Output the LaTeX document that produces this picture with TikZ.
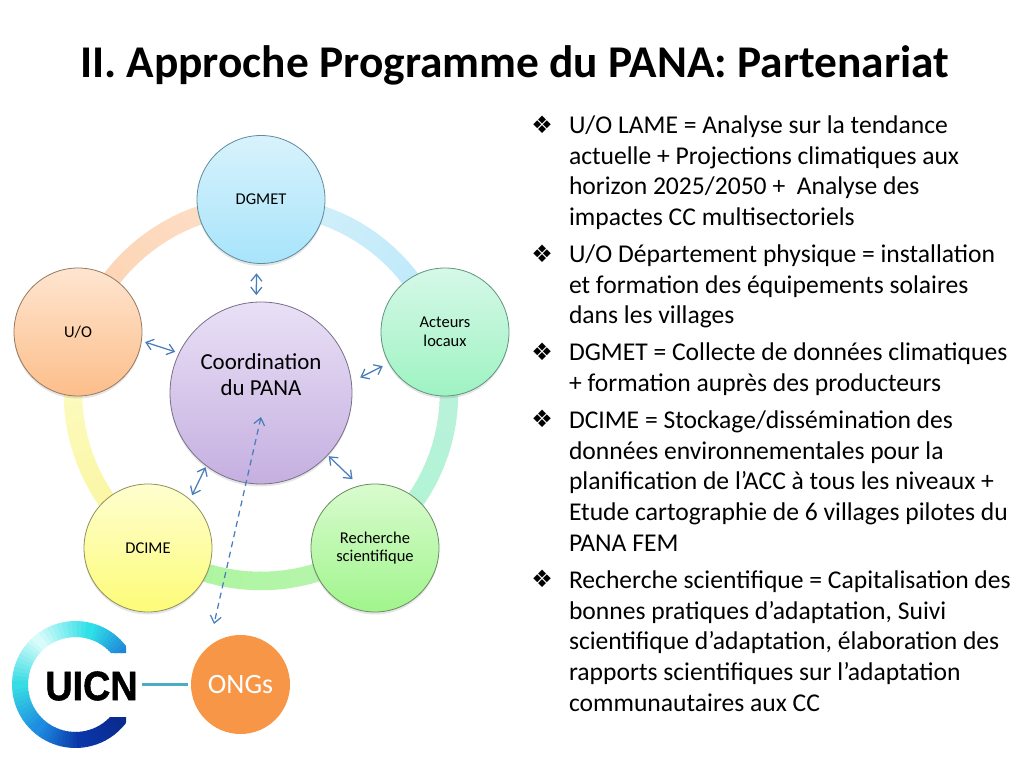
\documentclass[tikz,border=0pt]{standalone}
\usepackage{fontspec}
\setmainfont{Carlito}
\newfontfamily\dejavu{DejaVu Sans}
\newfontfamily\heavy[BoldFeatures={FakeBold=1.3}]{Liberation Sans}
\usetikzlibrary{arrows.meta,shadows}
\definecolor{linkblue}{HTML}{4A7EBB}
\definecolor{ra}{HTML}{D5F0FA}\definecolor{rb}{HTML}{BBE8FA}
\definecolor{rc}{HTML}{BDF2DC}\definecolor{rd}{HTML}{AEF3D4}
\definecolor{re}{HTML}{B9F5B0}\definecolor{rf}{HTML}{AAF59C}
\definecolor{rg}{HTML}{FAF59A}\definecolor{rh}{HTML}{FDFCC8}
\definecolor{ri}{HTML}{FCD2AE}\definecolor{rj}{HTML}{FDE0CC}
\definecolor{la}{HTML}{1F7FD8}\definecolor{lb}{HTML}{30E0E8}
\definecolor{lc}{HTML}{D8FCFA}\definecolor{ld}{HTML}{38DCE4}
\definecolor{le}{HTML}{1E8CE0}\definecolor{lf}{HTML}{0A36A8}
\definecolor{lg}{HTML}{0A2A8C}
\definecolor{dgt}{HTML}{D8F2FC}\definecolor{dgb}{HTML}{A8E4FB}\definecolor{dge}{HTML}{5F8C9C}
\definecolor{act}{HTML}{D6F8E8}\definecolor{acb}{HTML}{9EF3C2}\definecolor{ace}{HTML}{5F9480}
\definecolor{ret}{HTML}{D9FBCF}\definecolor{reb}{HTML}{A0F58C}\definecolor{ree}{HTML}{6A8C60}
\definecolor{dct}{HTML}{FEFED0}\definecolor{dcb}{HTML}{FDFC78}\definecolor{dce}{HTML}{90905A}
\definecolor{uot}{HTML}{FEE5D0}\definecolor{uob}{HTML}{FDBE8A}\definecolor{uoe}{HTML}{957A60}
\definecolor{cot}{HTML}{E9E0F6}\definecolor{cob}{HTML}{C5AFE0}\definecolor{coe}{HTML}{787088}
\definecolor{ongc}{HTML}{F79646}\definecolor{uline}{HTML}{4BACC6}
\tikzset{
  bub/.style={circle,line width=.8pt,minimum size=128pt,inner sep=0pt,outer sep=0pt,align=center,
    font=\fontsize{16.5}{18.6}\selectfont,text=black,
    drop shadow={opacity=.2,shadow xshift=0pt,shadow yshift=-2.5pt}},
  link/.style={draw=linkblue,line width=1.25pt,{Straight Barb[length=7pt,width=11pt]}-{Straight Barb[length=7pt,width=11pt]}},
  para/.style={anchor=north west,inner sep=0pt,outer sep=0pt,align=left,font=\fontsize{25.6}{30.8}\selectfont},
  bulletmark/.style={anchor=center,inner sep=0pt,font=\dejavu\fontsize{24}{24}\selectfont},
  ringpiece/.style={line width=18.5pt}
}
\newcommand{\ringseg}[4]{%
  \foreach \ki in {0,...,23}{%
    \pgfmathsetmacro{\angA}{#1+(#2-#1)*\ki/24}%
    \pgfmathsetmacro{\angB}{#1+(#2-#1)*(\ki+1.15)/24}%
    \pgfmathsetmacro{\mixp}{100*\ki/23}%
    \draw[ringpiece,color={#4!\mixp!#3}] ([shift={(\angA:188)}]261,375) arc[start angle=\angA,end angle=\angB,radius=188pt];
  }}
\newcommand{\logoseg}[4]{%
  \foreach \ki in {0,...,11}{%
    \pgfmathsetmacro{\angA}{#1+(#2-#1)*\ki/12}%
    \pgfmathsetmacro{\angB}{#1+(#2-#1)*(\ki+1.2)/12}%
    \pgfmathsetmacro{\mixp}{100*\ki/11}%
    \draw[line width=16pt,color={#4!\mixp!#3}] ([shift={(\angA:55.5)}]75.5,83.5) arc[start angle=\angA,end angle=\angB,radius=55.5pt];
  }}
\begin{document}
\begin{tikzpicture}[x=1pt,y=1pt]
\useasboundingbox (0,0) rectangle (1024,768);
\fill[white] (0,0) rectangle (1024,768);
% title
\node[anchor=base,inner sep=0pt,font=\bfseries\fontsize{45.4}{52}\selectfont] (title) at (514.5,690) {II. Approche Programme du PANA: Partenariat};
% ring
\ringseg{90}{18}{ra}{rb}
\ringseg{18}{-54}{rc}{rd}
\ringseg{-54}{-126}{re}{rf}
\ringseg{-126}{-198}{rg}{rh}
\ringseg{162}{90}{ri}{rj}
% circles
\node[bub,draw=dge,top color=dgt,bottom color=dgb] (dgmet) at (261,568.5) {DGMET};
\node[bub,draw=ace,top color=act,bottom color=acb] (acteurs) at (445,436) {Acteurs\\locaux};
\node[bub,draw=ree,top color=ret,bottom color=reb] (recherche) at (375,220) {Recherche\\scientifique};
\node[bub,draw=dce,top color=dct,bottom color=dcb] (dcime) at (148,220) {DCIME};
\node[bub,draw=uoe,top color=uot,bottom color=uob] (uo) at (78,436) {U/O};
\node[bub,draw=coe,top color=cot,bottom color=cob,minimum size=182pt,font=\fontsize{22.9}{26}\selectfont] (coord) at (261,375) {Coordination\\du PANA\\[11pt]\mbox{}};
% links
\draw[link,shorten <=9.9pt,shorten >=7pt] (dgmet.-94.5) -- (coord.93.1);
\draw[link,shorten <=3.9pt,shorten >=4.2pt] (uo.-8.8) -- (coord.154.4);
\draw[link,shorten <=7pt,shorten >=9.9pt] (acteurs.209.9) -- (coord.7.5);
\draw[link,shorten <=1.6pt,shorten >=9.7pt] (coord.-43.7) -- (recherche.104.4);
\draw[link,shorten <=1.6pt,shorten >=5pt] (coord.233.9) -- (dcime.49.4);
\coordinate (dashtop) at (261,351);
\coordinate (dashbot) at (214,144);
\draw[link,dashed,dash pattern=on 6pt off 4.5pt] (dashtop) -- (dashbot);
% logo
\begin{scope}
\clip (0,0) -- (126,0) -- (126,51) -- (90,51) -- (90,115) -- (126,115) -- (126,168) -- (0,168) -- cycle;
\logoseg{30}{75}{la}{lb}
\logoseg{75}{130}{lb}{lc}
\logoseg{130}{180}{lc}{ld}
\logoseg{180}{230}{ld}{le}
\logoseg{230}{275}{le}{lf}
\logoseg{275}{330}{lf}{lg}
\end{scope}
\node[inner sep=0pt,outer sep=0pt,font=\heavy\bfseries\fontsize{41}{41}\selectfont,xscale=.92,transform shape] (uicn) at (91.5,82) {UICN};
\node[circle,fill=ongc,minimum size=99pt,inner sep=0pt,outer sep=0pt,text=white,font=\fontsize{28}{32}\selectfont] (ong) at (240.5,83.5) {ONGs};
\draw[uline,line width=2.6pt,shorten <=4pt,shorten >=3pt] (uicn.east |- ong.west) -- (ong.west);
% bullets
\node[para] (p1) at (569,631+21.56) {U/O LAME = Analyse sur la tendance\\actuelle + Projections climatiques aux\\horizon 2025/2050 +\ \ Analyse des\\impactes CC multisectoriels};
\node[para] (p2) at (569,502+21.56) {U/O Département physique = installation\\et formation des équipements solaires\\dans les villages};
\node[para] (p3) at (569,404+21.56) {DGMET = Collecte de données climatiques\\+ formation auprès des producteurs};
\node[para] (p4) at (569,336+21.56) {DCIME = Stockage/dissémination des\\données environnementales pour la\\planification de l’ACC à tous les niveaux +\\Etude cartographie de 6 villages pilotes du\\PANA FEM};
\node[para] (p5) at (569,176+21.56) {Recherche scientifique = Capitalisation des\\bonnes pratiques d’adaptation, Suivi\\scientifique d’adaptation, élaboration des\\rapports scientifiques sur l’adaptation\\communautaires aux CC};
\node[bulletmark] (b1) at (542,643) {❖};
\node[bulletmark] (b2) at (542,514) {❖};
\node[bulletmark] (b3) at (542,416) {❖};
\node[bulletmark] (b4) at (542,349) {❖};
\node[bulletmark] (b5) at (542,189) {❖};
\end{tikzpicture}
\end{document}
